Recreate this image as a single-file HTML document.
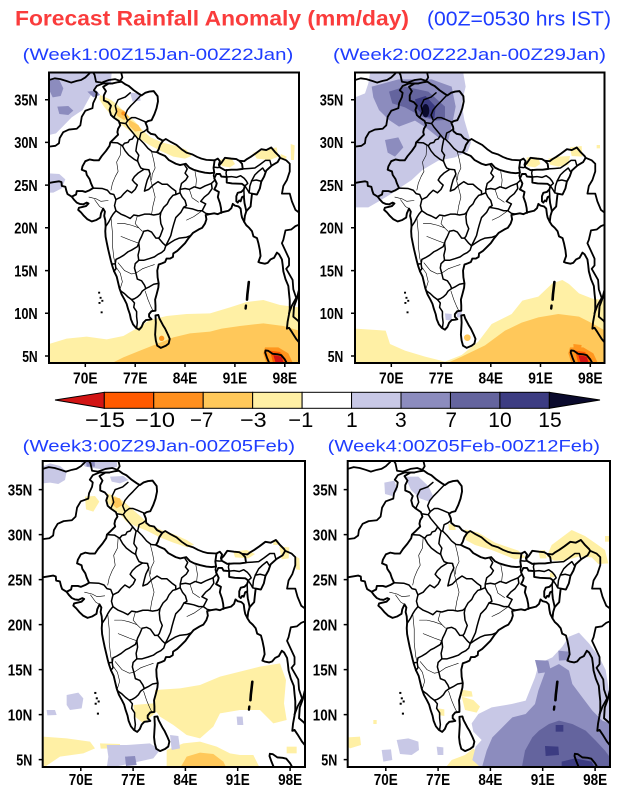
<!DOCTYPE html>
<html><head><meta charset="utf-8"><style>
html,body{margin:0;padding:0;background:#fff;}
svg{display:block;}
text{font-family:"Liberation Sans",sans-serif;}
</style></head><body>
<svg width="618" height="800" viewBox="0 0 618 800" xmlns="http://www.w3.org/2000/svg" xmlns:xlink="http://www.w3.org/1999/xlink">
<rect width="618" height="800" fill="#fff"/>
<defs>
<clipPath id="c1"><rect x="49" y="72.5" width="250" height="290.5"/></clipPath>
<clipPath id="c2"><rect x="355" y="72.5" width="249.5" height="290.5"/></clipPath>
<clipPath id="c3"><rect x="42.7" y="461" width="262.3" height="306"/></clipPath>
<clipPath id="c4"><rect x="347.7" y="461" width="262.3" height="306"/></clipPath>
<g id="geo" fill="none" stroke="#000" stroke-linejoin="round" stroke-linecap="round">
<path vector-effect="non-scaling-stroke" stroke-width="1.9" d="M64.9,25.25 L65.6,25.35 66.3,25.45 66.65,25.35 66.7,24.9 67.2,24.8 67.35,24.3 67.5,23.95 68.1,23.65 68.4,23.3 68.8,22.95 69.2,22.8 69.7,22.75 70.2,22.95 70.45,22.85 70.1,22.55 69.6,22.45 69.1,22.35 69.0,22.1 69.4,21.8 69.8,21.4 70.3,21.0 70.9,20.75 71.5,20.9 72.1,21.2 72.2,21.7 72.5,22.25 72.75,21.9 72.65,21.4 72.8,20.9 72.85,20.2 72.8,19.6 72.85,18.95 73.0,18.3 73.2,17.5 73.4,16.8 73.6,16.1 73.8,15.5 74.05,14.9 74.4,14.3 74.6,13.6 74.8,12.9 75.1,12.2 75.5,11.6 75.8,11.1 76.0,10.5 76.25,9.9 76.4,9.3 76.7,8.7 77.1,8.3 77.55,8.08 77.9,8.4 78.15,8.9 78.5,9.2 79.0,9.25 79.3,9.3 78.95,9.6 78.95,9.9 79.3,10.25 79.85,10.3 79.85,10.9 79.8,11.6 80.0,12.2 80.25,13.0 80.3,13.5 80.15,14.2 80.1,15.0 80.3,15.7 80.8,15.85 81.2,16.0 81.4,16.4 81.9,16.4 82.3,16.6 82.35,17.0 82.9,17.3 83.4,17.7 84.0,18.2 84.5,18.8 85.1,19.4 85.9,19.8 86.4,20.0 86.8,20.5 87.0,21.0 86.9,21.5 87.4,21.6 88.1,21.7 88.6,21.6 89.1,21.8 89.6,21.9 90.1,22.0 90.5,22.3 90.7,22.8 91.0,22.6 91.5,22.5 91.8,22.25 91.9,21.6 92.0,21.2 92.3,20.7 92.6,20.3 93.0,20.0 93.4,19.6 93.6,19.0 94.1,18.8 94.3,18.2 94.5,17.4 94.6,16.7 94.3,16.0 94.6,15.9 95.2,15.8 95.6,15.9 96.0,16.3 96.5,16.5 96.9,17.1 97.2,16.9 97.6,16.3 97.7,15.7 97.8,14.9 98.1,14.0 98.5,13.2 98.6,12.3 98.7,11.5 98.7,10.5 98.6,9.9 98.4,9.0 98.3,8.2 98.6,8.3 99.0,7.8 99.6,7.0 100.1,6.5 100.3,5.8"/>
<path vector-effect="non-scaling-stroke" stroke-width="1.9" d="M100.3,13.4 L99.95,12.6 99.7,11.7 99.3,10.8 99.2,9.6 99.9,9.1 100.3,8.4"/>
<path vector-effect="non-scaling-stroke" stroke-width="1.9" d="M79.85,9.75 L80.25,9.8 80.4,9.4 80.9,8.6 81.2,8.2 81.6,7.5 81.85,7.0 81.7,6.45 81.3,6.2 80.6,5.95 80.1,6.2 79.9,6.8 79.8,7.5 79.85,8.2 79.9,8.9 Z"/>
<path vector-effect="non-scaling-stroke" stroke-width="1.9" d="M95.9,4.0 L95.5,4.8 95.25,5.4 95.3,5.65 95.7,5.6 96.3,5.25 97.0,5.2 97.5,5.1 98.0,4.6 98.4,4.0"/>
<path vector-effect="non-scaling-stroke" stroke-width="2.6" d="M92.95,13.65 L92.85,12.9 92.75,12.2 92.7,11.6"/>
<path vector-effect="non-scaling-stroke" stroke-width="2.4" d="M92.55,10.9 L92.5,10.55"/>
<g fill="#000" stroke="none">
<rect x="71.8" y="12.3" width="0.28" height="0.22"/>
<rect x="72.0" y="11.7" width="0.28" height="0.22"/>
<rect x="72.25" y="11.35" width="0.28" height="0.22"/>
<rect x="71.85" y="11.1" width="0.28" height="0.22"/>
<rect x="72.15" y="10.0" width="0.28" height="0.22"/>
</g>
<path vector-effect="non-scaling-stroke" stroke-width="1.8" d="M64.9,37.3 L65.7,37.5 66.5,37.4 67.3,37.2 68.0,37.0 68.8,37.2 69.4,37.3 70.0,37.6 70.5,38.0 70.8,38.3"/>
<path vector-effect="non-scaling-stroke" stroke-width="1.8" d="M71.0,38.3 L71.3,37.9 71.5,37.1 72.3,37.0 73.3,37.3 74.2,37.4 74.9,37.2 75.2,37.6 75.0,38.3"/>
<path vector-effect="non-scaling-stroke" stroke-width="1.8" d="M64.9,29.5 L65.8,29.6 66.3,29.9 66.4,30.5 66.9,31.2 67.7,31.5 68.8,31.6 69.3,32.0 69.5,33.0 70.0,33.7 71.0,34.0 71.1,34.6 71.5,35.3 71.6,35.8 71.2,36.1 71.6,36.6 72.5,36.9 73.8,36.9 74.6,37.05"/>
<path vector-effect="non-scaling-stroke" stroke-width="1.9" d="M68.1,23.65 L68.7,23.9 68.8,24.3 69.6,24.3 70.0,24.2 70.6,24.4 71.1,24.65 70.8,25.2 70.6,25.7 70.2,26.2 70.1,26.6 69.5,26.8 69.6,27.2 70.0,27.8 70.6,28.0 71.2,27.9 71.9,27.9 72.3,28.4 72.9,29.0 73.4,29.6 73.5,30.0 74.0,30.4 74.6,30.9 74.5,31.2 74.6,31.6 74.9,32.0 74.7,32.5 74.0,32.9 73.6,33.2 73.4,33.8 73.6,34.3 73.2,34.7 72.6,34.9 72.6,35.5 72.9,36.0 72.5,36.5 73.3,36.9 73.8,36.9"/>
<path vector-effect="non-scaling-stroke" stroke-width="1.9" d="M74.6,37.05 L75.1,37.1 75.6,36.8 76.1,36.6 76.8,36.1 77.5,35.7 77.9,35.5 78.4,35.8 79.0,35.95 79.6,36.0 80.15,35.4 80.2,34.8 80.0,34.0 79.7,33.3 79.3,32.6 78.8,32.5 78.45,32.3 78.7,31.8 78.75,31.3 79.2,31.0 79.8,30.9 80.2,30.5 80.9,30.2"/>
<path vector-effect="non-scaling-stroke" stroke-width="1.9" d="M80.9,30.2 L80.5,29.7 80.3,29.2 80.05,28.85 80.5,28.65 81.2,28.4 81.7,27.95 82.7,27.5 83.3,27.35 84.1,27.5 84.6,27.05 85.2,26.8 86.0,26.6 86.8,26.45 87.5,26.4 88.1,26.45 88.0,27.0 88.15,27.9"/>
<path vector-effect="non-scaling-stroke" stroke-width="1.8" d="M80.9,30.2 L81.3,30.4 82.0,30.05 82.8,29.7 83.5,29.2 84.2,28.8 85.0,28.6 85.7,28.3 86.3,28.1 87.0,27.95 88.15,27.9"/>
<path vector-effect="non-scaling-stroke" stroke-width="1.9" d="M88.15,27.9 L88.6,28.1 88.9,27.8 88.75,27.4 88.85,27.1"/>
<path vector-effect="non-scaling-stroke" stroke-width="1.5" d="M88.05,27.1 L88.6,27.05 88.85,27.1"/>
<path vector-effect="non-scaling-stroke" stroke-width="1.9" d="M88.85,27.1 L88.8,27.35 89.1,27.6 89.6,28.2 90.5,28.1 91.2,28.05 91.6,27.85 92.0,27.5 92.1,26.9 91.3,26.8 90.5,26.8 89.6,26.75 88.85,27.1"/>
<path vector-effect="non-scaling-stroke" stroke-width="1.9" d="M91.65,27.85 L92.3,27.8 92.7,28.05 93.2,28.3 93.9,28.7 94.7,29.2 95.4,29.1 96.1,29.4 96.6,28.9 97.2,28.4 97.35,28.2 97.0,27.7 96.2,27.3 95.4,26.7 95.1,26.0 94.7,25.4 94.5,24.6 94.1,23.9 93.4,24.0 93.3,23.3 93.2,22.5 92.6,21.95 92.4,21.4 92.3,20.7"/>
<path vector-effect="non-scaling-stroke" stroke-width="1.8" d="M97.35,28.2 L98.2,27.9 98.7,27.5 98.7,26.6 98.3,25.6 97.8,24.9 97.6,24.0 98.7,24.0 99.0,23.1 99.5,22.1 100.3,21.6"/>
<path vector-effect="non-scaling-stroke" stroke-width="1.8" d="M100.3,20.9 L100.1,20.4 99.5,20.2 98.9,19.8 98.1,19.7 97.8,18.6 97.6,18.2 98.6,16.4 98.6,15.6 98.2,15.2 99.1,13.9 99.2,12.8 99.6,11.8 99.0,10.9 98.6,10.0"/>
<path vector-effect="non-scaling-stroke" stroke-width="1.9" d="M89.1,21.75 L89.05,22.3 88.9,22.9 88.6,23.6 88.75,24.2 88.1,24.5 88.35,24.9 88.45,25.2 88.1,25.8 88.4,26.3 88.9,26.3 89.1,26.0 89.85,25.95 89.85,25.3 90.6,25.2 92.0,25.15 92.4,24.9 92.25,24.5 91.9,24.2 91.4,24.1 91.2,23.7 91.2,23.1 91.4,22.95 91.6,23.2 91.8,23.1 92.0,23.6 92.25,23.7 92.35,22.9 92.6,21.95"/>
<g stroke-width="1.5">
<path vector-effect="non-scaling-stroke" stroke-width="1.5" d="M71.1,24.65 L72.4,24.6 73.1,24.4 73.5,24.0 74.0,23.9 74.3,23.3 74.1,22.6 74.3,22.0 73.9,21.6 73.6,21.2 73.3,20.7 72.9,20.2"/>
<path vector-effect="non-scaling-stroke" stroke-width="1.5" d="M73.5,30.0 L74.5,29.95 75.2,29.6 75.6,29.0 76.1,28.5 76.9,28.0 77.35,27.8 77.6,27.3 77.8,27.0 78.25,26.85 77.4,26.4 76.9,26.0 76.6,25.6 76.9,25.3 77.3,25.0 77.0,24.5 76.5,24.1 75.9,24.4 75.4,24.0 75.0,23.6 74.5,23.4 74.3,23.3"/>
<path vector-effect="non-scaling-stroke" stroke-width="1.5" d="M75.2,29.6 L75.5,29.9 76.0,30.0 76.2,30.3 76.6,30.4 76.9,30.8"/>
<path vector-effect="non-scaling-stroke" stroke-width="1.5" d="M74.9,32.3 L75.7,32.2 76.0,31.8 76.5,31.3 76.9,30.9 77.4,30.4 77.6,30.4 78.2,29.9 78.8,29.3 79.4,28.9 80.05,28.85"/>
<path vector-effect="non-scaling-stroke" stroke-width="1.5" d="M75.7,32.25 L76.0,32.6 76.5,32.9 77.0,32.9 77.6,32.7 78.45,32.4"/>
<path vector-effect="non-scaling-stroke" stroke-width="1.5" d="M75.9,32.6 L75.6,33.2 75.9,33.8 76.4,34.3 77.0,34.8 77.8,35.5"/>
<path vector-effect="non-scaling-stroke" stroke-width="1.5" d="M74.0,32.9 L74.4,33.6 74.2,34.3 74.6,35.0 75.6,35.3 76.3,35.8"/>
<path vector-effect="non-scaling-stroke" stroke-width="1.5" d="M77.6,30.4 L77.8,31.1 78.3,31.3 78.75,31.6"/>
<path vector-effect="non-scaling-stroke" stroke-width="1.5" d="M77.4,30.4 L77.2,29.6 77.1,29.0 77.5,28.5 77.35,28.0 77.35,27.8"/>
<path vector-effect="non-scaling-stroke" stroke-width="1.5" d="M78.25,26.85 L78.9,26.8 79.1,26.3 78.7,25.6 78.5,25.0 78.3,24.3 78.9,24.5 79.5,25.0 80.2,25.4 80.8,25.1 81.5,25.1 82.2,24.6 82.7,24.3 82.7,23.9"/>
<path vector-effect="non-scaling-stroke" stroke-width="1.5" d="M74.3,22.0 L75.0,21.6 75.6,21.4 76.3,21.1 76.8,21.5 77.5,21.4 78.3,21.6 79.0,21.6 79.6,21.5 80.3,21.6 80.6,21.8 81.0,22.4 81.5,22.8 81.8,23.3 82.3,23.8 82.7,23.9 83.3,24.1 83.6,23.6 84.0,23.2 84.2,22.6 83.8,22.4 83.4,21.8 82.7,21.2 82.4,20.4 82.2,19.8 82.0,19.1 81.6,18.4 81.3,17.9"/>
<path vector-effect="non-scaling-stroke" stroke-width="1.5" d="M80.6,21.8 L80.5,21.3 80.6,20.5 80.9,19.9 80.5,19.0 80.3,18.8 79.9,18.8 79.3,19.5 78.8,19.7 78.2,19.6 77.9,19.0 77.6,18.5 77.5,18.2 77.3,17.8 76.5,17.4 76.0,17.2 75.4,16.8 74.8,16.5 74.3,16.3 74.2,15.8 73.7,15.75"/>
<path vector-effect="non-scaling-stroke" stroke-width="1.5" d="M74.2,15.8 L74.3,15.2 74.0,14.9"/>
<path vector-effect="non-scaling-stroke" stroke-width="1.5" d="M80.3,18.8 L80.9,18.2 81.3,17.9"/>
<path vector-effect="non-scaling-stroke" stroke-width="1.5" d="M77.5,18.2 L77.6,17.5 77.4,16.8 77.5,16.2 77.0,15.8 76.9,15.3 77.1,14.7 77.3,14.0 77.9,13.8 78.3,13.3 78.5,12.9 78.0,12.6 77.7,12.2 77.3,11.9 76.9,11.7 76.5,11.6 76.0,11.9 75.5,12.3 75.0,12.6 74.85,12.75"/>
<path vector-effect="non-scaling-stroke" stroke-width="1.5" d="M76.5,11.6 L76.9,11.2 76.8,10.7 77.2,10.2 77.2,9.6 77.3,8.9 77.2,8.3"/>
<path vector-effect="non-scaling-stroke" stroke-width="1.5" d="M78.5,12.9 L79.0,13.1 79.6,13.4 80.25,13.5"/>
<path vector-effect="non-scaling-stroke" stroke-width="1.5" d="M77.5,16.2 L78.2,16.2 79.0,16.4 79.7,16.6 80.2,16.9 80.7,17.1 81.1,17.4 81.3,17.9 82.0,18.3 82.6,18.6 83.2,18.8 84.2,18.9 84.8,19.1"/>
<path vector-effect="non-scaling-stroke" stroke-width="1.5" d="M83.8,22.4 L84.5,22.3 85.1,22.2 85.8,22.0 86.4,22.0 86.9,21.7 87.45,21.6"/>
<path vector-effect="non-scaling-stroke" stroke-width="1.5" d="M86.4,22.0 L86.9,22.8 86.2,23.1 86.7,23.6 87.3,24.0 87.8,24.6 87.7,25.2 88.2,25.6 88.0,26.1 88.1,26.45"/>
<path vector-effect="non-scaling-stroke" stroke-width="1.5" d="M83.3,24.1 L83.3,24.5 84.0,24.6 84.6,24.5 85.3,24.8 86.1,24.6 86.8,24.9 87.7,25.2"/>
<path vector-effect="non-scaling-stroke" stroke-width="1.5" d="M83.3,24.5 L83.5,25.2 84.1,25.6 84.4,26.0 84.0,26.4 84.3,26.9 83.9,27.4"/>
<path vector-effect="non-scaling-stroke" stroke-width="1.5" d="M89.85,25.95 L89.75,26.4 89.85,26.8"/>
<path vector-effect="non-scaling-stroke" stroke-width="1.5" d="M89.85,25.95 L90.5,26.0 91.2,25.9 91.8,26.1 92.3,25.8 92.6,25.5 92.8,25.2 92.4,24.9"/>
<path vector-effect="non-scaling-stroke" stroke-width="1.5" d="M92.1,26.9 L93.0,26.95 93.8,27.0 94.5,27.4 95.3,27.9 95.9,27.9 96.1,27.3"/>
<path vector-effect="non-scaling-stroke" stroke-width="1.5" d="M93.35,25.5 L93.8,26.2 94.3,26.6 94.9,27.0 95.2,26.6"/>
<path vector-effect="non-scaling-stroke" stroke-width="1.5" d="M93.35,25.5 L94.0,25.6 94.7,25.45"/>
<path vector-effect="non-scaling-stroke" stroke-width="1.5" d="M93.35,25.5 L93.1,24.9 93.0,24.1"/>
<path vector-effect="non-scaling-stroke" stroke-width="1.5" d="M92.4,24.9 L92.8,24.4 93.0,24.1 93.4,24.0"/>
<path vector-effect="non-scaling-stroke" stroke-width="1.5" d="M92.25,24.5 L92.3,23.7"/>
</g>
<path vector-effect="non-scaling-stroke" stroke-width="0.6" d="M75.0,29.7 L74.9,28.5 74.4,27.7 74.6,26.6 74.2,26.0 73.8,25.2 73.6,24.4"/>
<path vector-effect="non-scaling-stroke" stroke-width="0.6" d="M79.0,26.8 L79.2,25.5 79.5,24.6 79.8,23.6 79.5,22.6 79.3,21.6"/>
<path vector-effect="non-scaling-stroke" stroke-width="0.6" d="M73.6,21.2 L73.8,19.5 73.8,18.0 74.0,16.5 74.2,15.8"/>
<path vector-effect="non-scaling-stroke" stroke-width="0.6" d="M74.5,20.5 L75.5,20.5 76.5,20.3 77.5,20.0 78.0,19.6"/>
<path vector-effect="non-scaling-stroke" stroke-width="0.6" d="M75.0,19.0 L76.5,18.5 77.5,18.2"/>
<path vector-effect="non-scaling-stroke" stroke-width="0.6" d="M77.3,21.4 L77.0,20.5 77.5,20.0"/>
<path vector-effect="non-scaling-stroke" stroke-width="0.6" d="M74.9,12.9 L75.2,13.7 74.9,14.7 74.4,15.3"/>
<path vector-effect="non-scaling-stroke" stroke-width="0.6" d="M74.6,15.9 L75.5,15.0 76.5,14.6 77.1,14.7"/>
<path vector-effect="non-scaling-stroke" stroke-width="0.6" d="M79.3,28.9 L79.6,27.9 79.8,27.0 79.4,26.3 79.3,25.6"/>
<path vector-effect="non-scaling-stroke" stroke-width="0.6" d="M77.1,14.7 L78.0,15.2 79.0,15.5 79.7,15.7"/>
<path vector-effect="non-scaling-stroke" stroke-width="0.6" d="M71.3,23.3 L72.0,22.5 72.5,22.25"/>
<path vector-effect="non-scaling-stroke" stroke-width="0.6" d="M85.5,24.8 L85.6,25.6 85.4,26.6"/>
<path vector-effect="non-scaling-stroke" stroke-width="0.6" d="M78.4,12.6 L78.8,11.6 79.2,10.8 79.5,10.3"/>
<path vector-effect="non-scaling-stroke" stroke-width="0.6" d="M84.2,20.9 L85.2,21.3 86.4,22.0"/>
<path vector-effect="non-scaling-stroke" stroke-width="0.6" d="M84.6,24.5 L85.0,23.5 85.9,23.0"/>
<path vector-effect="non-scaling-stroke" stroke-width="0.6" d="M70.5,23.6 L71.5,23.4 72.2,23.1 73.2,23.2"/>
</g>
</defs>

<!-- PANEL 1 -->
<g clip-path="url(#c1)">
<g transform="translate(0,60) scale(0.33333)" stroke="none">
<polygon fill="#c8c8e6" points="147,38 335,38 332,75 305,62 290,82 270,110 248,150 215,172 188,200 168,220 147,225"/>
<polygon fill="#c8c8e6" points="147,340 178,342 196,358 185,385 160,398 147,398"/>
<polygon fill="#c8c8e6" points="390,98 418,100 422,122 398,125"/>
<polygon fill="#8c8cbe" points="150,58 178,60 190,85 182,108 158,112 150,95"/>
<polygon fill="#8c8cbe" points="172,140 205,138 220,152 205,165 178,162"/>
<polygon fill="#8c8cbe" points="262,95 290,92 300,105 280,112"/>
<polygon fill="#fff0a5" points="300,105 330,118 350,132 378,160 405,185 425,208 452,232 488,248 530,258 560,270 575,288 555,296 520,290 480,272 445,253 410,230 385,210 360,190 335,168 312,140 298,118"/>
<polygon fill="#ffc85a" points="343,140 372,152 388,172 372,180 352,168"/>
<polygon fill="#ffc85a" points="385,178 415,195 425,212 405,215 388,198"/>
<circle fill="#ff961e" cx="370" cy="160" r="6"/>
<polygon fill="#fff0a5" points="662,298 695,296 705,312 690,322 665,318"/>
<polygon fill="#fff0a5" points="760,278 800,268 830,262 835,290 810,300 770,296"/>
<polygon fill="#fff0a5" points="842,282 860,290 856,302 842,298"/>
<polygon fill="#fff0a5" points="872,252 884,256 882,300 873,300"/>
<polygon fill="#fff0a5" points="147,852 200,836 260,830 320,838 370,828 410,805 450,780 500,768 560,762 630,760 690,742 740,726 790,720 840,735 897,742 897,912 147,912"/>
<polygon fill="#ffc85a" points="330,912 370,892 420,872 470,852 520,832 570,820 630,815 665,806 720,798 790,790 850,798 897,812 897,912"/>
<circle fill="#ff961e" cx="485" cy="835" r="8"/>
<polygon fill="#ff961e" points="795,862 835,862 865,880 880,912 800,912 790,880"/>
<polygon fill="#ff5a00" points="810,872 840,876 860,900 850,912 820,912"/>
<polygon fill="#d21414" points="820,885 845,890 852,912 828,912"/>
</g>
<use xlink:href="#geo" href="#geo" transform="translate(49,72.5) scale(7.123,-8.544) translate(-64.9,-38.18)"/>
</g>

<!-- PANEL 2 -->
<g clip-path="url(#c2)">
<g transform="translate(305,60) scale(0.33333)" stroke="none">
<polygon fill="#c8c8e6" points="195,40 475,40 482,80 470,130 478,180 498,248 488,275 450,292 400,302 352,330 320,360 290,380 258,402 220,425 190,442 150,442 150,112 180,100 190,70"/>
<polygon fill="#8c8cbe" points="200,80 280,58 380,58 440,80 452,140 440,200 430,240 400,232 362,202 330,182 282,200 252,180 222,150 205,112"/>
<polygon fill="#8c8cbe" points="240,240 280,232 295,262 270,290 248,278"/>
<polygon fill="#64649e" points="252,95 300,80 370,95 420,140 420,180 392,182 350,170 300,142 262,130"/>
<polygon fill="#3c3c82" points="330,118 362,108 392,140 388,176 356,168 336,146"/>
<ellipse fill="#0a0a2d" cx="362" cy="152" rx="11" ry="20"/>
<polygon fill="#fff0a5" points="665,292 700,292 706,312 690,322 665,318"/>
<polygon fill="#fff0a5" points="730,296 760,290 795,288 790,315 760,320 735,314"/>
<polygon fill="#fff0a5" points="795,262 830,258 832,290 800,288"/>
<polygon fill="#fff0a5" points="875,255 885,255 885,265 875,265"/>
<polygon fill="#fff0a5" points="150,806 242,812 255,852 300,872 360,890 420,905 470,885 520,845 560,792 620,762 652,722 700,710 742,670 772,660 792,672 822,700 862,716 897,720 897,912 150,912"/>
<polygon fill="#ffc85a" points="420,912 470,890 540,856 600,812 650,788 700,772 760,762 822,770 862,790 897,810 897,912"/>
<circle fill="#ffc85a" cx="487" cy="833" r="10"/>
<polygon fill="#c8c8e6" points="420,760 440,762 440,782 422,780"/>
<polygon fill="#c8c8e6" points="455,752 470,754 470,772 456,772"/>
<polygon fill="#ff961e" points="795,862 835,862 865,880 880,912 800,912 790,880"/>
<polygon fill="#ff961e" points="805,852 830,855 828,866 806,864"/>
<polygon fill="#ff5a00" points="810,872 840,876 860,900 850,912 820,912"/>
<polygon fill="#d21414" points="820,885 845,890 852,912 828,912"/>
</g>
<use xlink:href="#geo" href="#geo" transform="translate(355,72.5) scale(7.108,-8.544) translate(-64.9,-38.18)"/>
</g>

<!-- PANEL 3 -->
<g clip-path="url(#c3)">
<g transform="translate(0,430) scale(0.33333)" stroke="none">
<polygon fill="#c8c8e6" points="128,110 150,100 180,108 200,125 195,150 175,162 150,158 128,160"/>
<polygon fill="#c8c8e6" points="240,93 350,93 352,110 320,120 280,114 255,110"/>
<polygon fill="#c8c8e6" points="330,140 370,138 385,150 360,160 335,155"/>
<polygon fill="#8c8cbe" points="258,96 284,96 285,110 260,110"/>
<polygon fill="#fff0a5" points="320,190 345,198 372,215 400,240 425,262 445,282 480,298 520,312 560,330 582,344 562,352 520,338 480,322 440,302 410,290 380,276 360,252 340,238 322,218"/>
<polygon fill="#fff0a5" points="255,200 285,198 298,215 280,245 258,238"/>
<polygon fill="#ffc85a" points="335,200 360,205 368,225 350,235 335,222"/>
<polygon fill="#fff0a5" points="700,365 740,360 765,372 745,385 705,382"/>
<polygon fill="#fff0a5" points="820,330 835,330 835,345 820,345"/>
<polygon fill="#fff0a5" points="838,350 868,352 866,385 845,388"/>
<polygon fill="#fff0a5" points="885,378 898,385 900,420 888,418"/>
<polygon fill="#fff0a5" points="465,780 540,775 600,765 660,740 720,725 780,710 840,700 858,750 852,820 860,870 820,880 780,840 720,840 660,850 640,890 600,925 560,915 520,885 480,860 465,840"/>
<polygon fill="#fff0a5" points="400,825 460,820 470,845 430,880 405,860"/>
<polygon fill="#fff0a5" points="128,920 200,925 270,935 285,955 250,970 180,980 128,1015"/>
<polygon fill="#fff0a5" points="300,940 360,942 360,955 302,956"/>
<polygon fill="#fff0a5" points="500,960 550,940 600,935 650,950 690,970 720,975 760,975 780,1015 500,1015"/>
<polygon fill="#ffc85a" points="540,1015 560,980 600,968 640,972 670,995 680,1015"/>
<polygon fill="#fff0a5" points="860,950 890,950 890,970 860,970"/>
<polygon fill="#c8c8e6" points="320,945 380,945 450,940 480,960 460,985 370,1005 320,1015 325,980"/>
<polygon fill="#8c8cbe" points="375,980 405,978 410,1005 378,1008"/>
<polygon fill="#c8c8e6" points="510,915 535,918 540,955 515,960"/>
<polygon fill="#c8c8e6" points="200,795 235,788 250,805 245,835 210,840 200,825"/>
<polygon fill="#c8c8e6" points="140,840 165,840 170,855 142,856"/>
<polygon fill="#c8c8e6" points="710,860 728,860 730,885 712,885"/>
</g>
<use xlink:href="#geo" href="#geo" transform="translate(42.7,461) scale(7.473,-9.0) translate(-64.9,-38.18)"/>
</g>

<!-- PANEL 4 -->
<g clip-path="url(#c4)">
<g transform="translate(305,430) scale(0.33333)" stroke="none">
<polygon fill="#c8c8e6" points="238,158 268,152 278,180 262,198 240,192"/>
<polygon fill="#c8c8e6" points="300,140 340,140 370,168 385,200 372,215 345,205 318,180"/>
<polygon fill="#fff0a5" points="480,298 520,308 570,338 640,362 662,382 630,388 560,360 510,345 482,330"/>
<polygon fill="#fff0a5" points="430,282 450,285 452,300 432,300"/>
<polygon fill="#fff0a5" points="740,345 800,300 840,318 872,340 900,360 910,400 880,402 860,382 820,380 780,392 748,392 725,380"/>
<polygon fill="#fff0a5" points="700,362 720,360 725,385 705,385"/>
<polygon fill="#fff0a5" points="900,318 915,318 915,335 900,335"/>
<polygon fill="#fff0a5" points="735,428 748,428 748,442 735,442"/>
<polygon fill="#fff0a5" points="466,778 500,784 503,800 470,800"/>
<polygon fill="#fff0a5" points="470,800 505,810 525,830 515,848 480,840"/>
<polygon fill="#fff0a5" points="400,835 418,838 418,858 400,855"/>
<polygon fill="#fff0a5" points="128,922 165,920 168,945 135,955 128,950"/>
<polygon fill="#fff0a5" points="420,1015 440,990 480,975 505,955 520,970 525,1015"/>
<polygon fill="#fff0a5" points="205,870 215,870 215,882 205,882"/>
<polygon fill="#c8c8e6" points="500,880 520,852 560,832 620,822 662,812 690,742 702,700 742,682 772,650 792,620 822,608 852,640 882,680 902,720 915,800 915,1015 530,1015 502,990 512,950 530,930 505,905"/>
<polygon fill="#c8c8e6" points="275,930 310,925 340,935 342,960 320,975 285,972"/>
<polygon fill="#c8c8e6" points="230,960 258,958 262,990 235,995"/>
<polygon fill="#c8c8e6" points="395,950 415,952 415,975 398,975"/>
<polygon fill="#8c8cbe" points="530,1015 545,962 562,922 592,892 622,862 662,852 690,822 700,782 722,722 762,702 792,722 802,762 832,802 862,842 892,872 915,880 915,1015"/>
<polygon fill="#8c8cbe" points="690,690 730,692 738,725 700,730"/>
<polygon fill="#8c8cbe" points="760,662 790,665 792,690 762,692"/>
<polygon fill="#64649e" points="650,1015 660,962 682,922 702,902 732,882 762,872 802,882 842,902 872,932 900,962 915,982 915,1015"/>
<polygon fill="#3c3c82" points="720,948 760,950 762,975 722,978"/>
<polygon fill="#3c3c82" points="770,995 810,985 860,995 870,1015 770,1015"/>
<polygon fill="#3c3c82" points="752,885 775,885 775,905 752,905"/>
</g>
<use xlink:href="#geo" href="#geo" transform="translate(347.7,461) scale(7.473,-9.0) translate(-64.9,-38.18)"/>
</g>

<g fill="none" stroke="#000" stroke-width="2">
<rect x="49" y="72.5" width="250" height="290.5"/>
<rect x="355" y="72.5" width="249.5" height="290.5"/>
<rect x="42.7" y="461" width="262.3" height="306"/>
<rect x="347.7" y="461" width="262.3" height="306"/>
</g>
<g stroke="#000" stroke-width="1.5">
<path d="M45,99.7H49M45,142.4H49M45,185.1H49M45,227.8H49M45,270.6H49M45,313.3H49M45,356H49"/>
<path d="M85.3,363V367M135.2,363V367M185,363V367M234.9,363V367M284.8,363V367"/>
<path d="M351,99.7H355M351,142.4H355M351,185.1H355M351,227.8H355M351,270.6H355M351,313.3H355M351,356H355"/>
<path d="M391.3,363V367M441,363V367M490.8,363V367M540.5,363V367M590.3,363V367"/>
<path d="M38.7,489.6H42.7M38.7,534.6H42.7M38.7,579.6H42.7M38.7,624.6H42.7M38.7,669.6H42.7M38.7,714.6H42.7M38.7,759.6H42.7"/>
<path d="M80.8,767V771M133.1,767V771M185.4,767V771M237.7,767V771M290.1,767V771"/>
<path d="M343.7,489.6H347.7M343.7,534.6H347.7M343.7,579.6H347.7M343.7,624.6H347.7M343.7,669.6H347.7M343.7,714.6H347.7M343.7,759.6H347.7"/>
<path d="M385.8,767V771M438.1,767V771M490.4,767V771M542.7,767V771M595.1,767V771"/>
</g>

<g font-size="16" font-weight="bold" fill="#000">
<g text-anchor="end">
<text x="37.7" y="105.5" textLength="23.5" lengthAdjust="spacingAndGlyphs">35N</text>
<text x="37.7" y="148.2" textLength="23.5" lengthAdjust="spacingAndGlyphs">30N</text>
<text x="37.7" y="190.9" textLength="23.5" lengthAdjust="spacingAndGlyphs">25N</text>
<text x="37.7" y="233.6" textLength="23.5" lengthAdjust="spacingAndGlyphs">20N</text>
<text x="37.7" y="276.4" textLength="23.5" lengthAdjust="spacingAndGlyphs">15N</text>
<text x="37.7" y="319.1" textLength="23.5" lengthAdjust="spacingAndGlyphs">10N</text>
<text x="37.7" y="361.8" textLength="15.5" lengthAdjust="spacingAndGlyphs">5N</text>
<text x="343.3" y="105.5" textLength="23.5" lengthAdjust="spacingAndGlyphs">35N</text>
<text x="343.3" y="148.2" textLength="23.5" lengthAdjust="spacingAndGlyphs">30N</text>
<text x="343.3" y="190.9" textLength="23.5" lengthAdjust="spacingAndGlyphs">25N</text>
<text x="343.3" y="233.6" textLength="23.5" lengthAdjust="spacingAndGlyphs">20N</text>
<text x="343.3" y="276.4" textLength="23.5" lengthAdjust="spacingAndGlyphs">15N</text>
<text x="343.3" y="319.1" textLength="23.5" lengthAdjust="spacingAndGlyphs">10N</text>
<text x="343.3" y="361.8" textLength="15.5" lengthAdjust="spacingAndGlyphs">5N</text>
<text x="32.3" y="495.6" textLength="24.5" lengthAdjust="spacingAndGlyphs">35N</text>
<text x="32.3" y="540.6" textLength="24.5" lengthAdjust="spacingAndGlyphs">30N</text>
<text x="32.3" y="585.6" textLength="24.5" lengthAdjust="spacingAndGlyphs">25N</text>
<text x="32.3" y="630.6" textLength="24.5" lengthAdjust="spacingAndGlyphs">20N</text>
<text x="32.3" y="675.6" textLength="24.5" lengthAdjust="spacingAndGlyphs">15N</text>
<text x="32.3" y="720.6" textLength="24.5" lengthAdjust="spacingAndGlyphs">10N</text>
<text x="32.3" y="765.6" textLength="16" lengthAdjust="spacingAndGlyphs">5N</text>
<text x="337.3" y="495.6" textLength="24.5" lengthAdjust="spacingAndGlyphs">35N</text>
<text x="337.3" y="540.6" textLength="24.5" lengthAdjust="spacingAndGlyphs">30N</text>
<text x="337.3" y="585.6" textLength="24.5" lengthAdjust="spacingAndGlyphs">25N</text>
<text x="337.3" y="630.6" textLength="24.5" lengthAdjust="spacingAndGlyphs">20N</text>
<text x="337.3" y="675.6" textLength="24.5" lengthAdjust="spacingAndGlyphs">15N</text>
<text x="337.3" y="720.6" textLength="24.5" lengthAdjust="spacingAndGlyphs">10N</text>
<text x="337.3" y="765.6" textLength="16" lengthAdjust="spacingAndGlyphs">5N</text>
</g>
<g text-anchor="middle">
<text x="85.3" y="383.4" textLength="24.5" lengthAdjust="spacingAndGlyphs">70E</text>
<text x="135.2" y="383.4" textLength="24.5" lengthAdjust="spacingAndGlyphs">77E</text>
<text x="185" y="383.4" textLength="24.5" lengthAdjust="spacingAndGlyphs">84E</text>
<text x="234.9" y="383.4" textLength="24.5" lengthAdjust="spacingAndGlyphs">91E</text>
<text x="284.8" y="383.4" textLength="24.5" lengthAdjust="spacingAndGlyphs">98E</text>
<text x="391.3" y="383.4" textLength="24.5" lengthAdjust="spacingAndGlyphs">70E</text>
<text x="441" y="383.4" textLength="24.5" lengthAdjust="spacingAndGlyphs">77E</text>
<text x="490.8" y="383.4" textLength="24.5" lengthAdjust="spacingAndGlyphs">84E</text>
<text x="540.5" y="383.4" textLength="24.5" lengthAdjust="spacingAndGlyphs">91E</text>
<text x="590.3" y="383.4" textLength="24.5" lengthAdjust="spacingAndGlyphs">98E</text>
<text x="80.8" y="785" textLength="24" lengthAdjust="spacingAndGlyphs">70E</text>
<text x="133.1" y="785" textLength="24" lengthAdjust="spacingAndGlyphs">77E</text>
<text x="185.4" y="785" textLength="24" lengthAdjust="spacingAndGlyphs">84E</text>
<text x="237.7" y="785" textLength="24" lengthAdjust="spacingAndGlyphs">91E</text>
<text x="290.1" y="785" textLength="24" lengthAdjust="spacingAndGlyphs">98E</text>
<text x="385.8" y="785" textLength="24" lengthAdjust="spacingAndGlyphs">70E</text>
<text x="438.1" y="785" textLength="24" lengthAdjust="spacingAndGlyphs">77E</text>
<text x="490.4" y="785" textLength="24" lengthAdjust="spacingAndGlyphs">84E</text>
<text x="542.7" y="785" textLength="24" lengthAdjust="spacingAndGlyphs">91E</text>
<text x="595.1" y="785" textLength="24" lengthAdjust="spacingAndGlyphs">98E</text>
</g>
</g>

<text x="15" y="25.7" font-size="21" font-weight="bold" fill="#fa3c3c" textLength="394" lengthAdjust="spacingAndGlyphs">Forecast Rainfall Anomaly (mm/day)</text>
<text x="427" y="25.7" font-size="20" fill="#1e3cff" textLength="184" lengthAdjust="spacingAndGlyphs">(00Z=0530 hrs IST)</text>
<g font-size="17" fill="#1e3cff">
<text x="22.7" y="60" textLength="270.6" lengthAdjust="spacingAndGlyphs">(Week1:00Z15Jan-00Z22Jan)</text>
<text x="333" y="60" textLength="273" lengthAdjust="spacingAndGlyphs">(Week2:00Z22Jan-00Z29Jan)</text>
<text x="22.7" y="451.7" textLength="272.3" lengthAdjust="spacingAndGlyphs">(Week3:00Z29Jan-00Z05Feb)</text>
<text x="327.7" y="451.7" textLength="272.3" lengthAdjust="spacingAndGlyphs">(Week4:00Z05Feb-00Z12Feb)</text>
</g>

<g stroke="#000" stroke-width="1">
<polygon fill="#d21414" points="55,400 104.3,392.3 104.3,408.3"/>
<rect x="104.3" y="392.3" width="49.45" height="16" fill="#ff5a00"/>
<rect x="153.75" y="392.3" width="49.45" height="16" fill="#ff8f1e"/>
<rect x="203.2" y="392.3" width="49.45" height="16" fill="#ffc85a"/>
<rect x="252.65" y="392.3" width="49.45" height="16" fill="#fff0a5"/>
<rect x="302.1" y="392.3" width="49.45" height="16" fill="#ffffff"/>
<rect x="351.55" y="392.3" width="49.45" height="16" fill="#c8c8e6"/>
<rect x="401" y="392.3" width="49.45" height="16" fill="#8c8cbe"/>
<rect x="450.45" y="392.3" width="49.45" height="16" fill="#64649e"/>
<rect x="499.9" y="392.3" width="49.45" height="16" fill="#3c3c82"/>
<polygon fill="#0a0a2d" points="549.35,392.3 549.35,408.3 600,400"/>
</g>
<g font-size="21" fill="#000">
<text x="85" y="427" textLength="40" lengthAdjust="spacingAndGlyphs">−15</text>
<text x="135" y="427" textLength="40" lengthAdjust="spacingAndGlyphs">−10</text>
<text x="190" y="427" textLength="23.3" lengthAdjust="spacingAndGlyphs">−7</text>
<text x="240" y="427" textLength="26.7" lengthAdjust="spacingAndGlyphs">−3</text>
<text x="288.3" y="427" textLength="25" lengthAdjust="spacingAndGlyphs">−1</text>
<text x="346" y="427">1</text>
<text x="395" y="427" textLength="11.7" lengthAdjust="spacingAndGlyphs">3</text>
<text x="445.5" y="427" textLength="11.5" lengthAdjust="spacingAndGlyphs">7</text>
<text x="488.3" y="427" textLength="23.4" lengthAdjust="spacingAndGlyphs">10</text>
<text x="538.3" y="427" textLength="23.4" lengthAdjust="spacingAndGlyphs">15</text>
</g>
</svg>
</body></html>
